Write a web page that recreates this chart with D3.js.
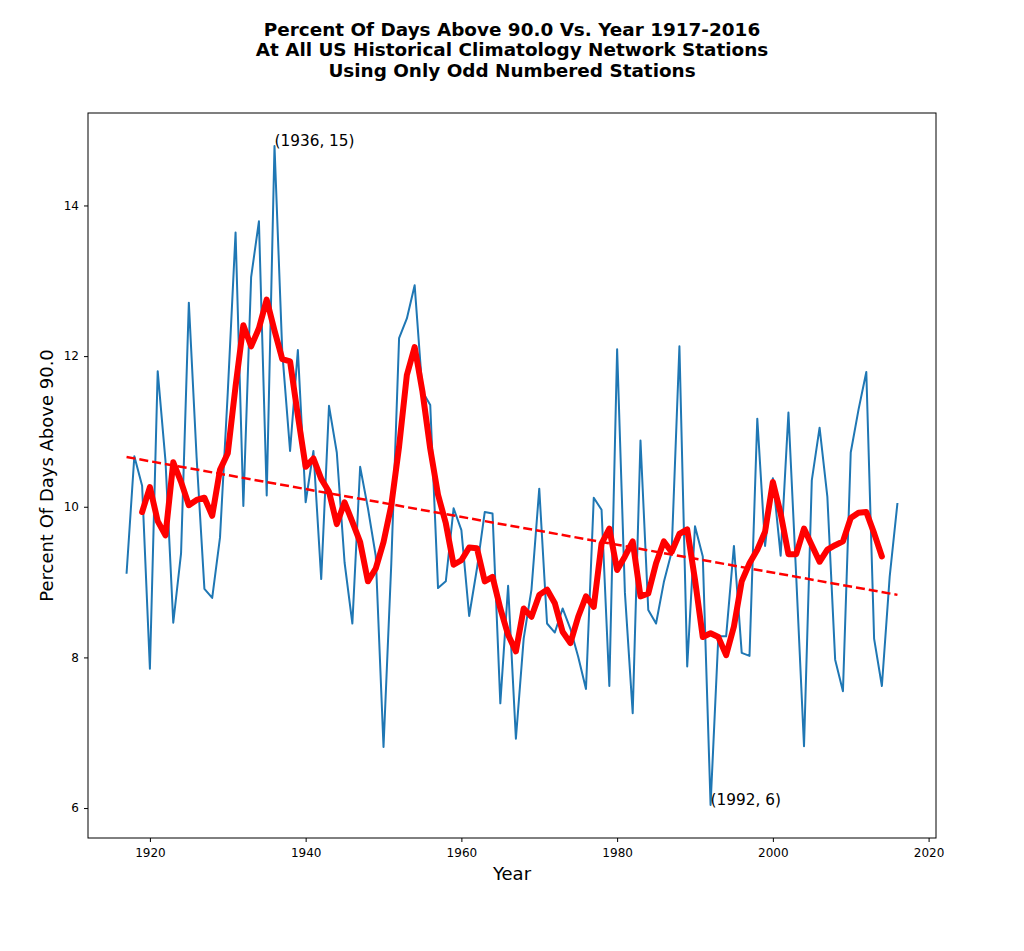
<!DOCTYPE html>
<html>
<head>
<meta charset="utf-8">
<script src="https://cdn.jsdelivr.net/npm/d3@7/dist/d3.min.js"></script>
<style>
    body { margin: 0; background: #fff; }
    svg text { font-family: "DejaVu Sans", sans-serif; fill: #000; }
</style>
</head>
<body>
<svg id="chart" width="1024" height="951"></svg>
<script>
// Yearly percent of days above 90.0 (blue line), 1917-2016
const years = d3.range(1917, 2017);
const pctValues = [
    9.11, 10.67, 10.28, 7.85, 11.80, 10.61, 8.46, 9.38, 12.71, 10.65,
    8.91, 8.79, 9.59, 11.52, 13.64, 10.01, 13.05, 13.79, 10.15, 14.79,
    12.05, 10.74, 12.08, 10.06, 10.74, 9.04, 11.34, 10.72, 9.26, 8.45,
    10.53, 9.98, 9.35, 6.81, 9.25, 12.24, 12.50, 12.94, 11.53, 11.35,
    8.92, 9.01, 9.98, 9.69, 8.55, 9.18, 9.93, 9.91, 7.39, 8.95,
    6.92, 8.25, 8.90, 10.24, 8.45, 8.33, 8.65, 8.38, 8.01, 7.58,
    10.12, 9.96, 7.62, 12.09, 8.86, 7.26, 10.88, 8.63, 8.45, 9.00,
    9.40, 12.13, 7.88, 9.74, 9.34, 6.04, 8.28, 8.28, 9.48, 8.06,
    8.02, 11.17, 9.48, 10.38, 9.35, 11.25, 9.07, 6.82, 10.35, 11.05,
    10.13, 7.97, 7.55, 10.72, 11.29, 11.79, 8.25, 7.62, 9.07, 10.05
];

// Smoothed curve (thick red line), 1919-2014
const smoothYears = d3.range(1919, 2015);
const smoothValues = [
    9.93, 10.26, 9.81, 9.62, 10.59, 10.33, 10.02, 10.09, 10.12, 9.88,
    10.49, 10.71, 11.60, 12.41, 12.13, 12.37, 12.75, 12.34, 11.96, 11.93,
    11.21, 10.53, 10.64, 10.37, 10.20, 9.77, 10.06, 9.80, 9.53, 9.01,
    9.18, 9.53, 10.02, 10.80, 11.75, 12.12, 11.53, 10.77, 10.16, 9.78,
    9.23, 9.29, 9.46, 9.45, 9.01, 9.07, 8.65, 8.30, 8.08, 8.65,
    8.54, 8.83, 8.90, 8.72, 8.34, 8.19, 8.54, 8.81, 8.67, 9.51,
    9.71, 9.16, 9.34, 9.54, 8.81, 8.85, 9.25, 9.54, 9.40, 9.64,
    9.70, 9.03, 8.27, 8.32, 8.27, 8.03, 8.41, 9.01, 9.25, 9.43,
    9.67, 10.33, 9.91, 9.37, 9.37, 9.71, 9.49, 9.27, 9.43, 9.49,
    9.54, 9.85, 9.92, 9.93, 9.65, 9.34
];

// Linear trend (dashed red)
const trendYears = [1917, 2016];
const trendValues = [10.66, 8.83];

// Labelled extremes
const notes = [
    { year: 1936, value: 14.79, label: "(1936, 15)" },
    { year: 1992, value: 6.04, label: "(1992, 6)" }
];

const xTicks = [1920, 1940, 1960, 1980, 2000, 2020];
const yTicks = [6, 8, 10, 12, 14];

const titleLines = [
    "Percent Of Days Above 90.0 Vs. Year 1917-2016",
    "At All US Historical Climatology Network Stations",
    "Using Only Odd Numbered Stations"
];

const margin = { top: 113, right: 88, bottom: 113, left: 88 };
const width = 1024 - margin.left - margin.right;
const height = 838 - margin.top;

const svg = d3.select("#chart");
const g = svg.append("g")
    .attr("transform", `translate(${margin.left},${margin.top})`);

// Domains padded by 5% like the default autoscale
const xExt = d3.extent(years);
const yExt = d3.extent(pctValues);
const xPad = (xExt[1] - xExt[0]) * 0.05;
const yPad = (yExt[1] - yExt[0]) * 0.05;

const x = d3.scaleLinear()
    .domain([xExt[0] - xPad, xExt[1] + xPad])
    .range([0, width]);
const y = d3.scaleLinear()
    .domain([yExt[0] - yPad, yExt[1] + yPad])
    .range([height, 0]);

// Axes
const xAxis = g.append("g")
    .attr("transform", `translate(0,${height})`)
    .call(d3.axisBottom(x).tickValues(xTicks).tickFormat(d3.format("d"))
        .tickSizeInner(4).tickSizeOuter(0).tickPadding(6));
const yAxis = g.append("g")
    .call(d3.axisLeft(y).tickValues(yTicks).tickFormat(d3.format("d"))
        .tickSizeInner(4).tickSizeOuter(0).tickPadding(5));

[xAxis, yAxis].forEach((ax) => {
    ax.select(".domain").remove();
    ax.selectAll("line").attr("stroke", "#000").attr("stroke-width", 1);
    ax.selectAll("text")
        .attr("font-size", 12)
        .style("font-family", "'DejaVu Sans', sans-serif");
});

// Frame around the plotting area
g.append("rect")
    .attr("width", width)
    .attr("height", height)
    .attr("fill", "none")
    .attr("stroke", "#000")
    .attr("stroke-width", 1);

const line = d3.line()
    .x((d) => x(d[0]))
    .y((d) => y(d[1]));

// Yearly series
g.append("path")
    .datum(d3.zip(years, pctValues))
    .attr("fill", "none")
    .attr("stroke", "#1f77b4")
    .attr("stroke-width", 2)
    .attr("stroke-linejoin", "round")
    .attr("d", line);

// Smoothed series
g.append("path")
    .datum(d3.zip(smoothYears, smoothValues))
    .attr("fill", "none")
    .attr("stroke", "#ff0000")
    .attr("stroke-width", 6)
    .attr("stroke-linejoin", "round")
    .attr("stroke-linecap", "round")
    .attr("d", line);

// Trend line
g.append("path")
    .datum(d3.zip(trendYears, trendValues))
    .attr("fill", "none")
    .attr("stroke", "#ff0000")
    .attr("stroke-width", 2.5)
    .attr("stroke-dasharray", "9,4")
    .attr("d", line);

// Annotations at the max and min points
g.selectAll("text.note")
    .data(notes)
    .join("text")
    .attr("class", "note")
    .attr("x", (d) => x(d.year))
    .attr("y", (d) => y(d.value))
    .attr("font-size", 15.3)
    .text((d) => d.label);

// Axis labels
svg.append("text")
    .attr("x", margin.left + width / 2)
    .attr("y", 880)
    .attr("text-anchor", "middle")
    .attr("font-size", 18)
    .text("Year");

svg.append("text")
    .attr("transform", `translate(53,${margin.top + height / 2}) rotate(-90)`)
    .attr("text-anchor", "middle")
    .attr("font-size", 18)
    .text("Percent Of Days Above 90.0");

// Title
svg.append("text")
    .attr("text-anchor", "middle")
    .attr("font-size", 18.4)
    .attr("font-weight", "bold")
    .selectAll("tspan")
    .data(titleLines)
    .join("tspan")
    .attr("x", 512)
    .attr("y", (d, i) => 35.5 + i * 20.8)
    .text((d) => d);
</script>
</body>
</html>
